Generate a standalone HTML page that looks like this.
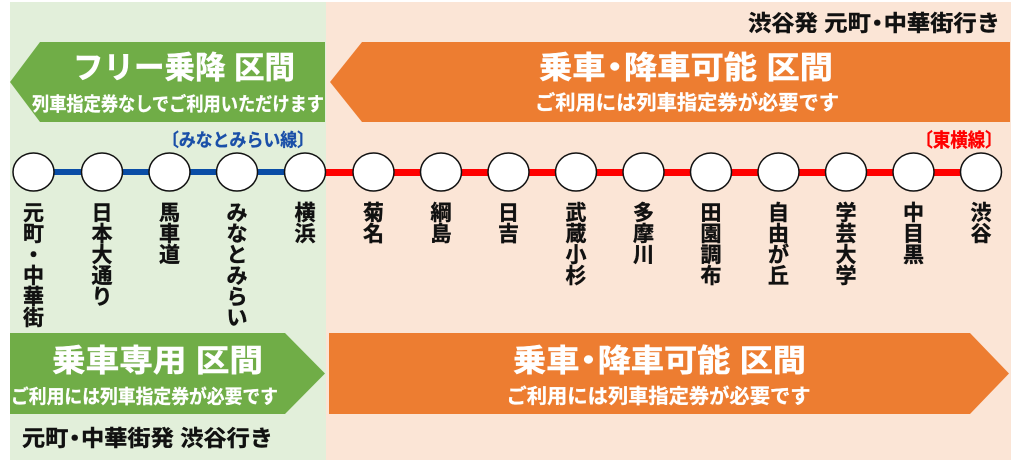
<!DOCTYPE html>
<html>
<head>
<meta charset="utf-8">
<style>
html,body{margin:0;padding:0;background:#fff;}
svg{display:block;}
text{font-family:"Liberation Sans","Noto Sans CJK JP",sans-serif;font-weight:bold;}
</style>
</head>
<body>
<svg width="1017" height="468" viewBox="0 0 1017 468" xmlns="http://www.w3.org/2000/svg">
  <!-- backgrounds -->
  <rect x="10" y="2" width="316" height="458" fill="#E2EFDA"/>
  <rect x="326" y="2" width="685" height="458" fill="#FBE5D6"/>

  <!-- top-right direction text -->
  <text x="874" y="31" font-size="22" fill="#111" stroke="#111" stroke-width="0.4" text-anchor="middle" textLength="252" lengthAdjust="spacingAndGlyphs">渋谷発 元町<tspan dx="-5">・</tspan><tspan dx="-5">中華街行き</tspan></text>

  <!-- top arrows -->
  <polygon points="40,42 325,42 325,122 40,122 10,82" fill="#70AD47"/>
  <polygon points="362,42 1010,42 1010,122 362,122 330,82" fill="#ED7D31"/>

  <g fill="#fff" stroke="#fff" stroke-width="0.5" text-anchor="middle">
    <text x="184" y="78.5" font-size="31" textLength="222" lengthAdjust="spacingAndGlyphs">フリー乗降 区間</text>
    <text x="178" y="110.5" font-size="19" stroke-width="0.3" textLength="292" lengthAdjust="spacingAndGlyphs">列車指定券なしでご利用いただけます</text>

    <text x="686" y="78.5" font-size="31" textLength="294" lengthAdjust="spacingAndGlyphs">乗車<tspan dx="-7">・</tspan><tspan dx="-7">降車可能 区間</tspan></text>
    <text x="687" y="109.5" font-size="20" stroke-width="0.3" textLength="304" lengthAdjust="spacingAndGlyphs">ご利用には列車指定券が必要です</text>
  </g>

  <!-- line names -->
  <text x="238" y="146.5" font-size="18" fill="#1A4FA8" stroke="#1A4FA8" stroke-width="0.3" text-anchor="middle" textLength="152" lengthAdjust="spacingAndGlyphs">〔みなとみらい線〕</text>
  <text x="959" y="146.5" font-size="19" fill="#FF0000" stroke="#FF0000" stroke-width="0.3" text-anchor="middle" textLength="87" lengthAdjust="spacingAndGlyphs">〔東横線〕</text>

  <!-- track lines -->
  <line x1="33.5" y1="172" x2="305" y2="172" stroke="#0A4DA6" stroke-width="6"/>
  <line x1="305" y1="172.5" x2="981" y2="172.5" stroke="#FF0000" stroke-width="7"/>

  <!-- station circles -->
  <g fill="#fff" stroke="#111" stroke-width="1.5">
    <ellipse cx="33.5" cy="172" rx="20.5" ry="19"/>
    <ellipse cx="102" cy="172" rx="20.5" ry="19"/>
    <ellipse cx="169.5" cy="172" rx="20.5" ry="19"/>
    <ellipse cx="237" cy="172" rx="20.5" ry="19"/>
    <ellipse cx="305" cy="172" rx="20.5" ry="19"/>
    <ellipse cx="373.5" cy="172" rx="20.5" ry="19"/>
    <ellipse cx="441" cy="172" rx="20.5" ry="19"/>
    <ellipse cx="508.5" cy="172" rx="20.5" ry="19"/>
    <ellipse cx="576" cy="172" rx="20.5" ry="19"/>
    <ellipse cx="643.5" cy="172" rx="20.5" ry="19"/>
    <ellipse cx="711" cy="172" rx="20.5" ry="19"/>
    <ellipse cx="778.5" cy="172" rx="20.5" ry="19"/>
    <ellipse cx="846" cy="172" rx="20.5" ry="19"/>
    <ellipse cx="913.5" cy="172" rx="20.5" ry="19"/>
    <ellipse cx="981" cy="172" rx="20.5" ry="19"/>
  </g>

  <!-- station labels (vertical) -->
  <g font-size="21" fill="#111" stroke="#111" stroke-width="0.4" text-anchor="middle">
    <!-- 元町・中華街 -->
    <text x="33.5" y="220">元</text>
    <text x="33.5" y="241">町</text>
    <text x="33.5" y="262">・</text>
    <text x="33.5" y="283">中</text>
    <text x="33.5" y="304">華</text>
    <text x="33.5" y="325">街</text>
    <!-- 日本大通り -->
    <text x="102" y="220">日</text>
    <text x="102" y="241">本</text>
    <text x="102" y="262">大</text>
    <text x="102" y="283">通</text>
    <text x="102" y="304">り</text>
    <!-- 馬車道 -->
    <text x="169.5" y="220">馬</text>
    <text x="169.5" y="241">車</text>
    <text x="169.5" y="262">道</text>
    <!-- みなとみらい -->
    <text x="237" y="220">み</text>
    <text x="237" y="241">な</text>
    <text x="237" y="262">と</text>
    <text x="237" y="283">み</text>
    <text x="237" y="304">ら</text>
    <text x="237" y="325">い</text>
    <!-- 横浜 -->
    <text x="305" y="220">横</text>
    <text x="305" y="241">浜</text>
    <!-- 菊名 -->
    <text x="373.5" y="220">菊</text>
    <text x="373.5" y="241">名</text>
    <!-- 綱島 -->
    <text x="441" y="220">綱</text>
    <text x="441" y="241">島</text>
    <!-- 日吉 -->
    <text x="508.5" y="220">日</text>
    <text x="508.5" y="241">吉</text>
    <!-- 武蔵小杉 -->
    <text x="576" y="220">武</text>
    <text x="576" y="241">蔵</text>
    <text x="576" y="262">小</text>
    <text x="576" y="283">杉</text>
    <!-- 多摩川 -->
    <text x="643.5" y="220">多</text>
    <text x="643.5" y="241">摩</text>
    <text x="643.5" y="262">川</text>
    <!-- 田園調布 -->
    <text x="711" y="220">田</text>
    <text x="711" y="241">園</text>
    <text x="711" y="262">調</text>
    <text x="711" y="283">布</text>
    <!-- 自由が丘 -->
    <text x="778.5" y="220">自</text>
    <text x="778.5" y="241">由</text>
    <text x="778.5" y="262">が</text>
    <text x="778.5" y="283">丘</text>
    <!-- 学芸大学 -->
    <text x="846" y="220">学</text>
    <text x="846" y="241">芸</text>
    <text x="846" y="262">大</text>
    <text x="846" y="283">学</text>
    <!-- 中目黒 -->
    <text x="913.5" y="220">中</text>
    <text x="913.5" y="241">目</text>
    <text x="913.5" y="262">黒</text>
    <!-- 渋谷 -->
    <text x="981" y="220">渋</text>
    <text x="981" y="241">谷</text>
  </g>

  <!-- bottom arrows -->
  <polygon points="10,333 285,333 325,373.5 285,414 10,414" fill="#70AD47"/>
  <polygon points="329,333 970,333 1009,373.5 970,414 329,414" fill="#ED7D31"/>

  <g fill="#fff" stroke="#fff" stroke-width="0.5" text-anchor="middle">
    <text x="157.5" y="371.5" font-size="31" textLength="211" lengthAdjust="spacingAndGlyphs">乗車専用 区間</text>
    <text x="144.5" y="403" font-size="19" stroke-width="0.3" textLength="267" lengthAdjust="spacingAndGlyphs">ご利用には列車指定券が必要です</text>

    <text x="659.5" y="371.5" font-size="31" textLength="293" lengthAdjust="spacingAndGlyphs">乗車<tspan dx="-7">・</tspan><tspan dx="-7">降車可能 区間</tspan></text>
    <text x="658.5" y="403" font-size="20" stroke-width="0.3" textLength="304" lengthAdjust="spacingAndGlyphs">ご利用には列車指定券が必要です</text>
  </g>

  <!-- bottom direction text -->
  <text x="147.5" y="446" font-size="22" fill="#111" stroke="#111" stroke-width="0.4" text-anchor="middle" textLength="251" lengthAdjust="spacingAndGlyphs">元町<tspan dx="-5">・</tspan><tspan dx="-5">中華街発 渋谷行き</tspan></text>
</svg>
</body>
</html>
